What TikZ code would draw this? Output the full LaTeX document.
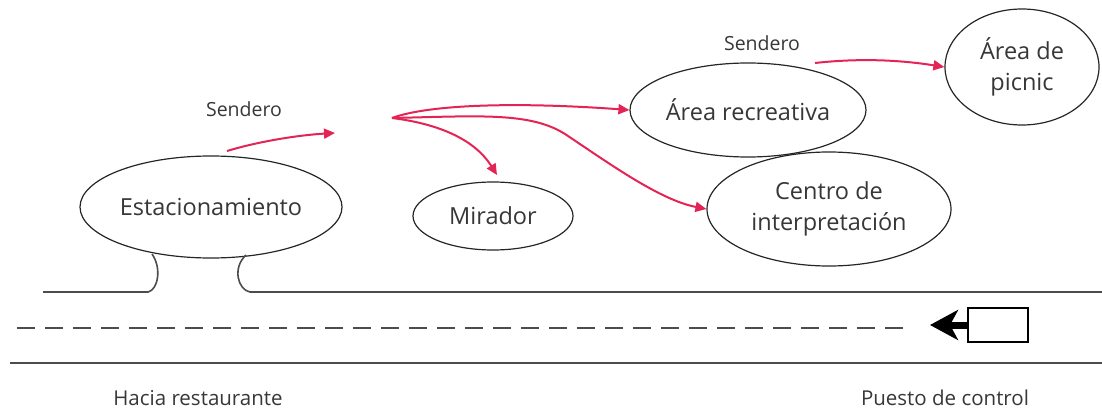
\documentclass[tikz,border=0pt]{standalone}
\usepackage{fontspec}
\setmainfont{Open Sans}
\usetikzlibrary{shapes.geometric,arrows.meta}
\definecolor{trail}{RGB}{228,36,84}
\definecolor{ink}{RGB}{55,55,55}
\tikzset{
  place/.style={draw=black!85, line width=1.2pt, ellipse, inner sep=0pt, text=ink, font=\fontsize{23.5}{31}\selectfont, align=center},
  trailarrow/.style={draw=trail, line width=2pt, -{Triangle[length=11pt,width=10pt]}},
  road/.style={draw=black!70, line width=1.8pt},
  lbl/.style={text=ink, font=\fontsize{19.5}{23}\selectfont, inner sep=0pt},
  roadlbl/.style={lbl, font=\fontsize{20.5}{24}\selectfont},
}
\begin{document}
\begin{tikzpicture}[x=1pt,y=-1pt]
\useasboundingbox (0,0) rectangle (1102,412);
% places
\node[place, minimum width=262pt, minimum height=102pt] (park) at (211,207) {Estacionamiento};
\node[place, minimum width=160pt, minimum height=68pt] (mir) at (493,216) {Mirador};
\node[place, minimum width=236pt, minimum height=94pt] (rec) at (748,110) {Área recreativa};
\node[place, minimum width=244pt, minimum height=114pt] (cen) at (829,209) {Centro de\\interpretación};
\node[place, minimum width=154pt, minimum height=116pt] (pic) at (1022,67) {Área de\\picnic};
% labels
\node[lbl] (s1) at (244,109) {Sendero};
\node[lbl] (s2) at (762,43) {Sendero};
\node[roadlbl] (hr) at (198,398) {Hacia restaurante};
\node[roadlbl] (pc) at (945,398) {Puesto de control};
% trail coordinates
\coordinate (p1) at (227,151);
\coordinate (p1e) at (335,133);
\coordinate (src) at (392,118);
\coordinate (p2) at (815,63);
% trail arrows
\draw[trailarrow] (p1) .. controls (260,141) and (300,135) .. (p1e);
\draw[trailarrow] (src) .. controls (430,104) and (520,102) .. (rec.west);
\draw[trailarrow] (src) .. controls (440,124) and (475,140) .. (497,175);
\draw[trailarrow] (src) .. controls (480,116) and (530,112) .. (565,134) .. controls (610,164) and (660,200) .. (cen.west);
\draw[trailarrow] (p2) .. controls (860,58) and (900,60) .. (pic.west);
% road
\coordinate (rl) at (43,292);
\coordinate (rr) at (1102,292);
\draw[road, line width=1.6pt] (rl) -- (148,292) .. controls (158,290) and (162,268) .. (152,254);
\draw[road, line width=1.6pt] (rr) -- (250,292) .. controls (238,290) and (232,268) .. (246,255);
\coordinate (dl) at (17,328);
\coordinate (dr) at (912,328);
\draw[road, line width=2pt, dash pattern=on 18pt off 10pt] (dl) -- (dr);
\coordinate (bl) at (10,363);
\coordinate (br) at (1102,363);
\draw[road, line width=2.2pt] (bl) -- (br);
% control post
\node[draw=black, line width=1.6pt, minimum width=60pt, minimum height=34pt, inner sep=0pt] (box) at (998,325) {};
\coordinate (tip) at (930,325);
\draw[black, line width=7pt, -{Stealth[length=28pt,width=30pt,inset=8pt]}] (box.west) -- (tip);
\end{tikzpicture}
\end{document}
